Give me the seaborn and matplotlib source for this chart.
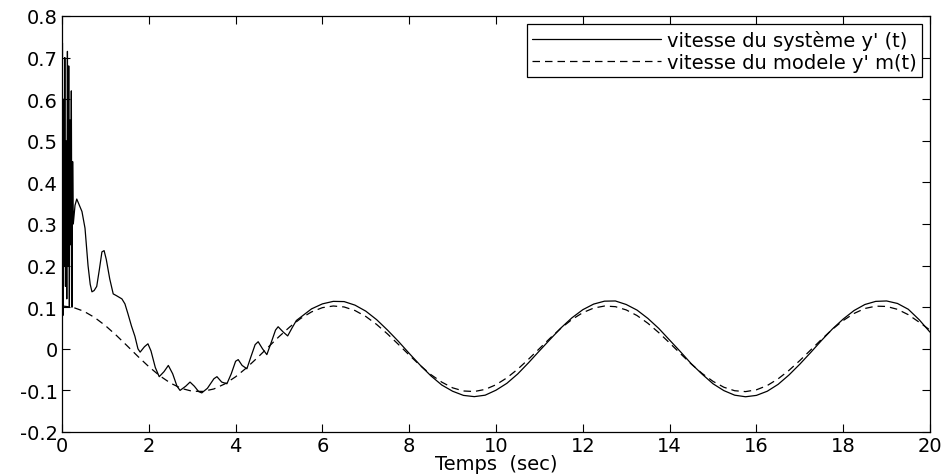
import numpy as np
import pandas as pd
import matplotlib
matplotlib.use("Agg")
import matplotlib.pyplot as plt
import seaborn as sns

# ---- data ----
t_sys_early = [0.0, 0.01, 0.02, 0.035, 0.05, 0.065, 0.08, 0.095, 0.11, 0.125, 0.14,
               0.155, 0.17, 0.185, 0.2, 0.215, 0.23, 0.245, 0.26, 0.3, 0.34, 0.38,
               0.46, 0.53, 0.6, 0.65, 0.69, 0.74, 0.8, 0.86, 0.92, 0.97, 1.02, 1.1,
               1.18, 1.25, 1.38, 1.45, 1.52, 1.6, 1.68, 1.75, 1.8, 1.9, 1.98, 2.05,
               2.15, 2.24, 2.35, 2.45, 2.55, 2.65, 2.72, 2.85, 2.95, 3.05, 3.15, 3.22,
               3.35, 3.5, 3.57, 3.68, 3.8, 3.9, 4.0, 4.06, 4.15, 4.26, 4.35, 4.45,
               4.52, 4.62, 4.72, 4.82, 4.92, 4.98, 5.1, 5.2, 5.3, 5.4, 5.5]
y_sys_early = [0.10, 0.735, 0.08, 0.60, 0.20, 0.70, 0.15, 0.50, 0.12, 0.715, 0.20,
               0.68, 0.10, 0.55, 0.25, 0.62, 0.10, 0.45, 0.30, 0.345, 0.36, 0.35,
               0.33, 0.29, 0.20, 0.155, 0.137, 0.14, 0.15, 0.19, 0.233, 0.236, 0.215, 0.168,
               0.132, 0.128, 0.12, 0.108, 0.084, 0.055, 0.03, 0.0, -0.008, 0.005, 0.012, -0.005,
               -0.045, -0.067, -0.055, -0.04, -0.06, -0.09, -0.10, -0.09, -0.08, -0.09, -0.103, -0.106,
               -0.095, -0.072, -0.067, -0.08, -0.084, -0.06, -0.03, -0.026, -0.04, -0.048, -0.02, 0.01,
               0.017, 0.0, -0.014, 0.015, 0.045, 0.053, 0.04, 0.031, 0.05, 0.068, 0.076]

t_sys_late = [5.75, 6.0, 6.25, 6.5, 6.75, 7.0, 7.25, 7.5, 7.75, 8.0, 8.25, 8.5, 8.75,
              9.0, 9.25, 9.5, 9.75, 10.0, 10.25, 10.5, 10.75, 11.0, 11.25, 11.5, 11.75,
              12.0, 12.25, 12.5, 12.75, 13.0, 13.25, 13.5, 13.75, 14.0, 14.25, 14.5, 14.75,
              15.0, 15.25, 15.5, 15.75, 16.0, 16.25, 16.5, 16.75, 17.0, 17.25, 17.5, 17.75,
              18.0, 18.25, 18.5, 18.75, 19.0, 19.25, 19.5, 19.75, 20.0]
y_sys_late = [0.096, 0.108, 0.114, 0.1135, 0.105, 0.0905, 0.070, 0.045, 0.018, -0.011,
              -0.039, -0.065, -0.087, -0.102, -0.112, -0.115, -0.1115, -0.0995, -0.083, -0.0605,
              -0.0335, -0.005, 0.023, 0.0505, 0.0745, 0.094, 0.1075, 0.1145, 0.115, 0.1065, 0.093,
              0.073, 0.049, 0.021, -0.007, -0.036, -0.061, -0.084, -0.1005, -0.1115, -0.1153,
              -0.112, -0.102, -0.0855, -0.063, -0.037, -0.009, 0.020, 0.0475, 0.0715, 0.092,
              0.1065, 0.114, 0.115, 0.109, 0.095, 0.070, 0.040]

t_model = [0.0, 0.25, 0.5, 0.75, 1.0, 1.25, 1.5, 1.75, 2.0, 2.25, 2.5, 2.75, 3.0, 3.25,
           3.5, 3.75, 4.0, 4.25, 4.5, 4.75, 5.0, 5.25, 5.5, 5.75, 6.0, 6.25, 6.5, 6.75,
           7.0, 7.25, 7.5, 7.75, 8.0, 8.25, 8.5, 8.75, 9.0, 9.25, 9.5, 9.75, 10.0, 10.25,
           10.5, 10.75, 11.0, 11.25, 11.5, 11.75, 12.0, 12.25, 12.5, 12.75, 13.0, 13.25,
           13.5, 13.75, 14.0, 14.25, 14.5, 14.75, 15.0, 15.25, 15.5, 15.75, 16.0, 16.25,
           16.5, 16.75, 17.0, 17.25, 17.5, 17.75, 18.0, 18.25, 18.5, 18.75, 19.0, 19.25,
           19.5, 19.75, 20.0]
y_model = [0.103, 0.0998, 0.0904, 0.0754, 0.0557, 0.0325, 0.0073, -0.0184, -0.0429,
           -0.0647, -0.0825, -0.0952, -0.1020, -0.1024, -0.0965, -0.0845, -0.0673, -0.0459,
           -0.0217, 0.0038, 0.0292, 0.0527, 0.0730, 0.0887, 0.0989, 0.1029, 0.1006, 0.0920,
           0.0777, 0.0585, 0.0357, 0.0107, -0.0150, -0.0398, -0.0620, -0.0801, -0.0938,
           -0.1014, -0.1027, -0.0976, -0.0864, -0.0699, -0.0490, -0.0250, 0.0005, 0.0259,
           0.0498, 0.0705, 0.0869, 0.0979, 0.1028, 0.1013, 0.0935, 0.0799, 0.0613, 0.0389,
           0.0141, -0.0116, -0.0366, -0.0593, -0.0782, -0.0924, -0.1008, -0.1029, -0.0986,
           -0.0883, -0.0722, -0.0519, -0.0283, -0.0029, 0.0226, 0.0469, 0.0680, 0.0850,
           0.0969, 0.1025, 0.1018, 0.0949, 0.0820, 0.0640, 0.0450]

label_sys = "vitesse du système y' (t)"
label_model = "vitesse du modele y' m(t)"
x_label = "Temps  (sec)"
x_ticks = [0, 2, 4, 6, 8, 10, 12, 14, 16, 18, 20]
y_ticks = [-0.2, -0.1, 0, 0.1, 0.2, 0.3, 0.4, 0.5, 0.6, 0.7, 0.8]

# ---- build frames ----
df_sys = pd.DataFrame({"t": t_sys_early + t_sys_late, "v": y_sys_early + y_sys_late})
df_mod = pd.DataFrame({"t": t_model, "v": y_model})

sns.set_style("ticks")
plt.rcParams["font.family"] = ["DejaVu Sans"]
plt.rcParams["text.color"] = "black"
plt.rcParams["axes.labelcolor"] = "black"

fig = plt.figure(figsize=(9.45, 4.77), dpi=100)
ax = fig.add_axes([62 / 945, 1 - 433 / 477, (930 - 62) / 945, (433 - 17) / 477])

sns.lineplot(data=df_sys, x="t", y="v", ax=ax, color="black", linewidth=0.9,
             estimator=None, sort=False, label=label_sys)
sns.lineplot(data=df_mod, x="t", y="v", ax=ax, color="black", linewidth=0.9,
             estimator=None, sort=False, label=label_model, linestyle=(0, (6, 4)))

ax.set_xlim(0, 20)
ax.set_ylim(-0.2, 0.8)
ax.set_xticks(x_ticks)
ax.set_yticks(y_ticks)
ax.set_xticklabels([str(v) for v in x_ticks])
ax.set_yticklabels(["%g" % v for v in y_ticks])
ax.tick_params(direction="in", length=6, width=0.8, top=True, right=True,
               labelsize=14, colors="black", pad=3)
for s in ax.spines.values():
    s.set_visible(True)
    s.set_color("black")
    s.set_linewidth(0.9)
ax.set_xlabel(x_label, fontsize=14, labelpad=-1, color="black")
ax.set_ylabel("")

leg = ax.legend(loc="upper right", fontsize=14, frameon=True, fancybox=False,
                edgecolor="black", framealpha=1, handlelength=6.6, handletextpad=0.3,
                borderaxespad=0.4, borderpad=0.3, labelspacing=0.15)
leg.get_frame().set_linewidth(0.9)
for txt in leg.get_texts():
    txt.set_color("black")

fig.savefig("out.png", dpi=100)
